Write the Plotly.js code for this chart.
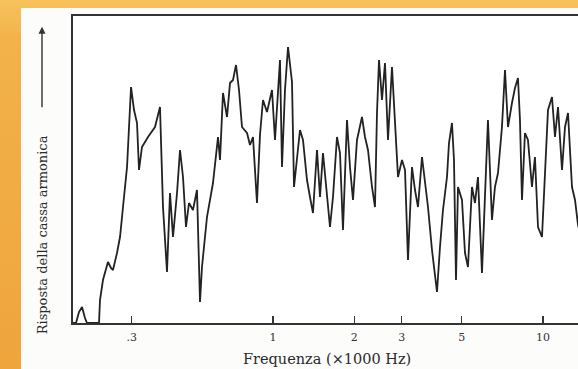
<!DOCTYPE html>
<html>
<head>
<meta charset="utf-8">
<script src="https://cdn.plot.ly/plotly-3.0.1.min.js"></script>
<style>
html,body{margin:0;padding:0;width:578px;height:369px;overflow:hidden;}
body{background:linear-gradient(to bottom,#F7C25C 0px,#F3B24A 40px,#EFA43C 369px);}
#paper{position:absolute;left:21px;top:8px;width:600px;height:370px;background:#fcfcfa;}
#chart{position:absolute;left:0;top:0;width:600px;height:369px;}
</style>
</head>
<body>
<div id="paper"></div>
<div id="chart"></div>
<script>
// Frequency in kHz (x1000 Hz)
const freq = [0.1816,0.1864,0.1912,0.1962,0.2012,0.2047,0.2268,0.2287,0.2346,0.2448,0.2512,0.2555,0.2644,0.2713,0.2783,0.2880,0.2980,0.3057,0.3136,0.3190,0.3272,0.3444,0.3656,0.3815,0.3914,0.4050,0.4155,0.4263,0.4411,0.4525,0.4642,0.4762,0.4885,0.5054,0.5230,0.5366,0.5458,0.5696,0.5995,0.6257,0.6364,0.6529,0.6756,0.6931,0.7111,0.7295,0.7484,0.7677,0.8013,0.8219,0.8432,0.8724,0.8950,0.9183,0.9501,0.9915,1.0172,1.0615,1.0798,1.1077,1.1367,1.1760,1.1963,1.2272,1.2589,1.2915,1.3363,1.3709,1.4064,1.4554,1.4931,1.5317,1.5849,1.6260,1.6681,1.7260,1.7707,1.8165,1.8796,1.9283,1.9783,2.0469,2.1362,2.1914,2.2482,2.3263,2.3865,2.4277,2.4696,2.5335,2.5991,2.6664,2.7590,2.8305,2.9037,3.0047,3.0825,3.1623,3.2721,3.3569,3.4437,3.5634,3.6556,3.7502,3.8805,3.9811,4.0496,4.1544,4.2618,4.4099,4.4859,4.6020,4.6813,4.7619,4.8440,5.0119,5.1416,5.2746,5.4578,5.5990,5.7438,5.9431,6.0968,6.2545,6.4715,6.6389,6.8129,7.0480,7.2320,7.4190,7.6764,7.8750,8.0787,8.2175,8.3589,8.5751,8.7967,9.1024,9.3377,9.5829,9.9153,10.171,10.435,10.798,11.077,11.366,11.760,12.066,12.378,12.806,13.140,13.481,13.947];
// Soundboard response (arbitrary units)
const response = [0,0,11,16,5,0,0,23,43,61,55,53,70,86,116,156,236,213,200,153,176,186,196,216,116,51,130,86,130,173,146,96,120,113,133,21,56,106,140,186,163,230,206,240,243,258,233,196,190,178,186,120,188,223,211,233,183,263,156,233,276,241,136,163,193,183,143,126,110,173,126,170,123,96,126,186,170,93,203,156,123,183,206,186,173,136,116,210,263,223,260,183,256,200,146,163,153,63,156,133,116,166,140,116,73,46,31,76,113,146,180,200,163,43,136,123,70,56,136,120,146,50,130,203,103,136,150,196,253,196,220,235,245,203,123,190,183,136,166,96,86,146,213,226,186,216,153,196,210,136,123,98,83];
const tickVals = [0.3,1,2,3,5,10];
const tickText = [".3","1","2","3","5","10"];
const xTitle = "Frequenza (×1000 Hz)";
const yTitle = "Risposta della cassa armonica";

const serif = "DejaVu Serif, Liberation Serif, serif";
const trace = {
  x: freq, y: response, type: "scatter", mode: "lines",
  line: {color: "#222", width: 1.8},
  hoverinfo: "skip"
};
const layout = {
  width: 600, height: 369,
  margin: {l: 73, r: 10, t: 16, b: 46},
  paper_bgcolor: "rgba(0,0,0,0)",
  plot_bgcolor: "#ffffff",
  showlegend: false,
  xaxis: {
    type: "log", range: [-0.7407, 1.1741],
    tickvals: tickVals, ticktext: tickText,
    ticks: "inside", ticklen: 7, tickwidth: 1.2, tickcolor: "#333",
    showline: true, linecolor: "#333", linewidth: 2, mirror: true,
    showgrid: false, zeroline: false,
    ticklabelstandoff: 3,
    tickfont: {family: serif, size: 11, color: "#333"}
  },
  yaxis: {
    range: [0, 307],
    showticklabels: false, ticks: "",
    showline: true, linecolor: "#333", linewidth: 2, mirror: true,
    showgrid: false, zeroline: false
  },
  annotations: [
    {xref: "paper", yref: "paper", x: 0.491, y: 0, yanchor: "middle", xanchor: "center", yshift: -36,
     text: xTitle, showarrow: false,
     font: {family: serif, size: 14.5, color: "#2a2a2a"}},
    {xref: "paper", yref: "paper", x: 0, xshift: -31, y: -0.045, yanchor: "bottom", xanchor: "center",
     text: yTitle, textangle: -90, showarrow: false,
     font: {family: serif, size: 13, color: "#2a2a2a"}},
    {xref: "paper", yref: "paper", x: 0, xshift: -31, y: 0.965, showarrow: true,
     ax: 0, ay: 82, arrowhead: 2, arrowsize: 1, arrowwidth: 1.4, arrowcolor: "#333", text: ""}
  ]
};
Plotly.newPlot("chart", [trace], layout, {staticPlot: true, displayModeBar: false});
</script>
</body>
</html>
